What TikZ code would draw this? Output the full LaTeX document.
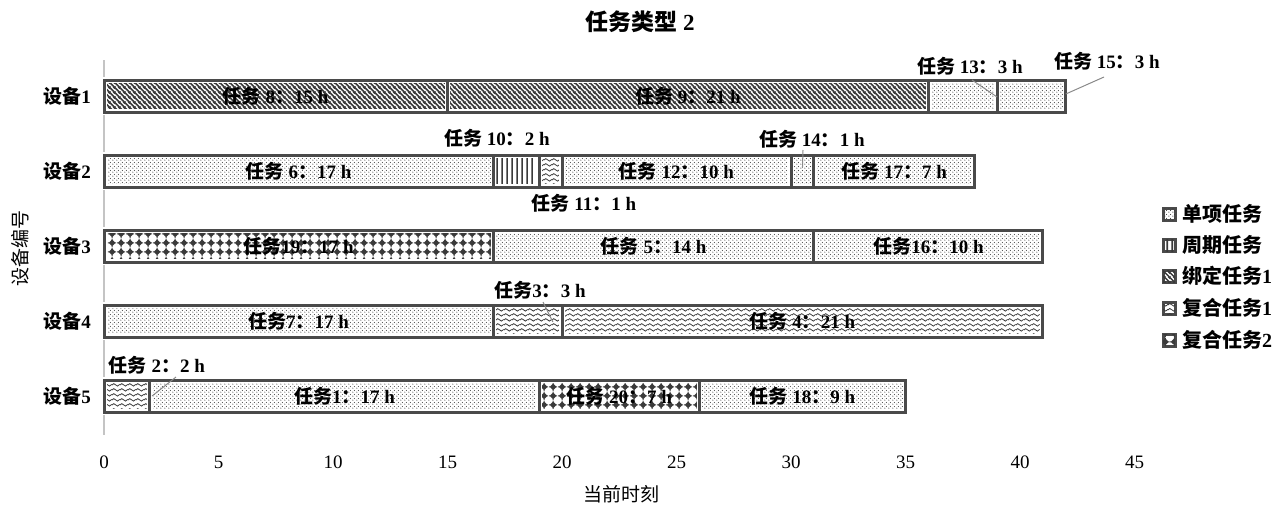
\documentclass[tikz,border=0pt]{standalone}
\usepackage{fontspec}
\setmainfont{Liberation Serif}
\newfontfamily\cjk{Noto Sans CJK SC}
\usetikzlibrary{patterns,calc}
\definecolor{bcol}{HTML}{4A4A4A}
\definecolor{pcol}{HTML}{3A3A3A}
\definecolor{lcol}{HTML}{8A8A8A}
\definecolor{acol}{HTML}{C4C4C4}
\pgfdeclarepatternformonly{pdots}{\pgfqpoint{0pt}{0pt}}{\pgfqpoint{4pt}{4pt}}{\pgfqpoint{4pt}{4pt}}{\pgfpathcircle{\pgfqpoint{1pt}{1pt}}{0.65pt}\pgfpathcircle{\pgfqpoint{3pt}{3pt}}{0.65pt}\pgfusepath{fill}}
\pgfdeclarepatternformonly{pdiag}{\pgfqpoint{0pt}{0pt}}{\pgfqpoint{5pt}{5pt}}{\pgfqpoint{5pt}{5pt}}{\pgfsetlinewidth{1.8pt}\pgfpathmoveto{\pgfqpoint{-1pt}{6pt}}\pgfpathlineto{\pgfqpoint{6pt}{-1pt}}\pgfpathmoveto{\pgfqpoint{-1pt}{1pt}}\pgfpathlineto{\pgfqpoint{1pt}{-1pt}}\pgfpathmoveto{\pgfqpoint{4pt}{6pt}}\pgfpathlineto{\pgfqpoint{6pt}{4pt}}\pgfusepath{stroke}}
\pgfdeclarepatternformonly{pvert}{\pgfqpoint{0pt}{0pt}}{\pgfqpoint{5pt}{5pt}}{\pgfqpoint{5pt}{5pt}}{\pgfsetlinewidth{2pt}\pgfpathmoveto{\pgfqpoint{2.5pt}{-1pt}}\pgfpathlineto{\pgfqpoint{2.5pt}{6pt}}\pgfusepath{stroke}}
\pgfdeclarepatternformonly{pwave}{\pgfqpoint{0pt}{0pt}}{\pgfqpoint{8pt}{5pt}}{\pgfqpoint{8pt}{5pt}}{\pgfsetlinewidth{0.9pt}\pgfpathmoveto{\pgfqpoint{-0.5pt}{2pt}}\pgfpathcurveto{\pgfqpoint{1.5pt}{4.5pt}}{\pgfqpoint{2.5pt}{4.5pt}}{\pgfqpoint{4pt}{2.5pt}}\pgfpathcurveto{\pgfqpoint{5.5pt}{0.5pt}}{\pgfqpoint{6.5pt}{0.5pt}}{\pgfqpoint{8.5pt}{3pt}}\pgfusepath{stroke}}
\pgfdeclarepatternformonly{pdiam}{\pgfqpoint{0pt}{0pt}}{\pgfqpoint{9pt}{9pt}}{\pgfqpoint{9pt}{9pt}}{%
\pgfpathmoveto{\pgfqpoint{4.5pt}{0.8pt}}\pgfpathlineto{\pgfqpoint{8.2pt}{4.5pt}}\pgfpathlineto{\pgfqpoint{4.5pt}{8.2pt}}\pgfpathlineto{\pgfqpoint{0.8pt}{4.5pt}}\pgfpathclose
\pgfpathrectangle{\pgfqpoint{0pt}{4pt}}{\pgfqpoint{9pt}{1pt}}
\pgfpathrectangle{\pgfqpoint{4pt}{0pt}}{\pgfqpoint{1pt}{9pt}}
\pgfusepath{fill}}
\newcommand\rw{{\cjk 任务}}
\newcommand\cn{{\cjk ：}}
\tikzset{
  seg/.style={fill=white, postaction={pattern color=pcol, pattern=#1}},
  halo/.style={draw=white, line width=5.5pt},
  border/.style={draw=bcol, line width=3pt},
  blab/.style={font=\fontsize{19}{19}\selectfont\bfseries, inner sep=0pt, text=black},
  olab/.style={font=\fontsize{19}{19}\selectfont\bfseries, inner sep=0pt, text=black},
  dlab/.style={font=\fontsize{19}{19}\selectfont\bfseries, inner sep=0pt, anchor=east},
  tick/.style={font=\fontsize{19}{19}\selectfont, inner sep=0pt},
  leader/.style={draw=lcol, line width=1pt},
  legbox/.style={draw=bcol, line width=3pt, fill=white, postaction={pattern color=pcol, pattern=#1}, minimum size=12pt, inner sep=0pt},
  legtxt/.style={font=\cjk\fontsize{20}{20}\selectfont\bfseries, inner sep=0pt, anchor=west},
}
\begin{document}
\begin{tikzpicture}[x=1pt,y=-1pt]
\useasboundingbox (0,0) rectangle (1280,517);
% title
\node[font=\fontsize{23}{23}\selectfont\bfseries, inner sep=0pt] (title) at (640,22) {{\cjk 任务类型} 2};
% axis
\draw[acol, line width=1.5pt] (104,60) -- (104,435);
\foreach \v in {0,5,...,45}
  \node[tick] (tk\v) at ({104+22.9*\v},462) {\v};
\node[font=\cjk\fontsize{19}{19}\selectfont, inner sep=0pt] (xtitle) at (621,494) {当前时刻};
\node[font=\cjk\fontsize{19}{19}\selectfont, inner sep=0pt, rotate=90] (ytitle) at (20,248) {设备编号};
% device labels
\node[dlab] (d1) at (91,96) {{\cjk 设备}1};
\node[dlab] (d2) at (91,171) {{\cjk 设备}2};
\node[dlab] (d3) at (91,246) {{\cjk 设备}3};
\node[dlab] (d4) at (91,321) {{\cjk 设备}4};
\node[dlab] (d5) at (91,396) {{\cjk 设备}5};
\begin{scope}[shift={(104,0)}, x=22.9pt]
% fills
\foreach \a/\b/\y/\p in {0/15/80/pdiag, 15/36/80/pdiag, 36/39/80/pdots, 39/42/80/pdots,
  0/17/155/pdots, 17/19/155/pvert, 19/20/155/pwave, 20/30/155/pdots, 30/31/155/pdots, 31/38/155/pdots,
  0/17/230/pdiam, 17/31/230/pdots, 31/41/230/pdots,
  0/17/305/pdots, 17/20/305/pwave, 20/41/305/pwave,
  0/2/380/pwave, 2/19/380/pdots, 19/26/380/pdiam, 26/35/380/pdots}
  \path[seg=\p] (\a,\y) rectangle (\b,\y+32);
% borders with white halo
\foreach \a/\b/\y in {0/15/80, 15/36/80, 36/39/80, 39/42/80,
  0/17/155, 17/19/155, 19/20/155, 20/30/155, 30/31/155, 31/38/155,
  0/17/230, 17/31/230, 31/41/230,
  0/17/305, 17/20/305, 20/41/305,
  0/2/380, 2/19/380, 19/26/380, 26/35/380}
  \draw[halo] (\a,\y) rectangle (\b,\y+32);
\foreach \a/\b/\y in {0/15/80, 15/36/80, 36/39/80, 39/42/80,
  0/17/155, 17/19/155, 19/20/155, 20/30/155, 30/31/155, 31/38/155,
  0/17/230, 17/31/230, 31/41/230,
  0/17/305, 17/20/305, 20/41/305,
  0/2/380, 2/19/380, 19/26/380, 26/35/380}
  \draw[border] (\a,\y) rectangle (\b,\y+32);
% bar labels
\node[blab] (b8) at (7.5,96) {\rw{} 8\cn 15 h};
\node[blab] (b9) at (25.5,96) {\rw{} 9\cn 21 h};
\node[blab] (b6) at (8.5,171) {\rw{} 6\cn 17 h};
\node[blab] (b12) at (25,171) {\rw{} 12\cn 10 h};
\node[blab] (b17) at (34.5,171) {\rw{} 17\cn 7 h};
\node[blab] (b19) at (8.5,246) {\rw19\cn 17 h};
\node[blab] (b5) at (24,246) {\rw{} 5\cn 14 h};
\node[blab] (b16) at (36,246) {\rw16\cn 10 h};
\node[blab] (b7) at (8.5,321) {\rw7\cn 17 h};
\node[blab] (b4) at (30.5,321) {\rw{} 4\cn 21 h};
\node[blab] (b1) at (10.5,396) {\rw1\cn 17 h};
\node[blab] (b20) at (22.5,396) {\rw{} 20\cn 7 h};
\node[blab] (b18) at (30.5,396) {\rw{} 18\cn 9 h};
% leader targets
\coordinate (c13) at (39,97);
\coordinate (c15) at (42,94);
\coordinate (c14) at (30.5,168);
\coordinate (c3) at (19.6,322);
\coordinate (c2) at (2.1,396);
\end{scope}
% outside labels
\node[olab] (l13) at (970,66) {\rw{} 13\cn 3 h};
\node[olab] (l15) at (1107,61) {\rw{} 15\cn 3 h};
\node[olab] (l10) at (497,138) {\rw{} 10\cn 2 h};
\node[olab] (l14) at (812,139) {\rw{} 14\cn 1 h};
\node[olab] (l11) at (584,203) {\rw{} 11\cn 1 h};
\node[olab] (l3) at (540,290) {\rw3\cn 3 h};
\node[olab] (l2) at (157,365) {\rw{} 2\cn 2 h};
\coordinate (e13) at (972,80);
\coordinate (e15) at (1104,77);
\coordinate (e14) at (803,150);
\coordinate (e3) at (543,302);
\coordinate (e2) at (176,377);
\draw[leader] (e13) -- (c13);
\draw[leader] (e15) -- (c15);
\draw[leader] (e14) -- (c14);
\draw[leader] (e3) -- (c3);
\draw[leader] (e2) -- (c2);
% legend
\node[legbox=pdots] (k1) at (1169,214) {};
\node[legbox=pvert] (k2) at (1169,245) {};
\node[legbox=pdiag] (k3) at (1169,276) {};
\node[legbox=pwave] (k4) at (1169,308) {};
\node[legbox=pdiam] (k5) at (1169,340) {};
\node[legtxt] (g1) at (1182,214) {单项任务};
\node[legtxt] (g2) at (1182,245) {周期任务};
\node[legtxt] (g3) at (1182,276) {绑定任务{\rmfamily 1}};
\node[legtxt] (g4) at (1182,308) {复合任务{\rmfamily 1}};
\node[legtxt] (g5) at (1182,340) {复合任务{\rmfamily 2}};
\end{tikzpicture}
\end{document}
